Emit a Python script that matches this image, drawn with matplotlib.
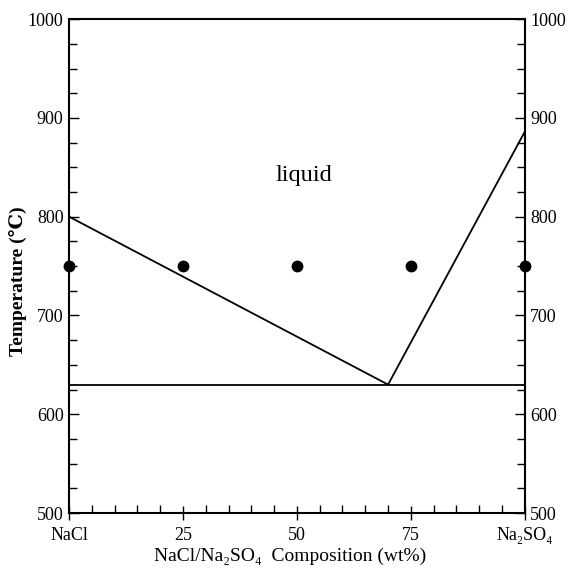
import matplotlib.pyplot as plt
from matplotlib.ticker import MultipleLocator

plt.rcParams['font.family'] = ['Liberation Serif', 'DejaVu Serif']

# liquidus curve and eutectic line
liquidus_x = [0, 70, 100]
liquidus_t = [800, 630, 886]
eutectic_x = [0, 100]
eutectic_t = [630, 630]

# experiment points
points_x = [0, 25, 50, 75, 100]
points_t = [750, 750, 750, 750, 750]

x_ticks = [0, 25, 50, 75, 100]
x_labels = ['NaCl', '25', '50', '75', 'Na₂SO₄']
y_ticks = [500, 600, 700, 800, 900, 1000]

fig = plt.figure(figsize=(5.71, 5.69), dpi=100)
ax = fig.add_axes([0.121, 0.0984, 0.798, 0.868])

ax.plot(liquidus_x, liquidus_t, color='black', linewidth=1.3, clip_on=False)
ax.plot(eutectic_x, eutectic_t, color='black', linewidth=1.3)
ax.plot(points_x, points_t, 'o', color='black', markersize=7.5, clip_on=False, zorder=5)

ax.text(51.5, 842, 'liquid', fontsize=17.5, ha='center', va='center')

ax.set_xlim(0, 100)
ax.set_ylim(500, 1000)
ax.set_xticks(x_ticks)
ax.set_xticklabels(x_labels)
ax.set_yticks(y_ticks)
ax.xaxis.set_minor_locator(MultipleLocator(5))
ax.yaxis.set_minor_locator(MultipleLocator(25))

ax.tick_params(which='both', direction='in', left=True, right=True, top=False,
               labelright=True, labelsize=13, width=1.0)
ax.tick_params(which='major', length=7)
ax.tick_params(which='minor', length=5.5)
ax.tick_params(axis='x', which='major', direction='inout', length=10, pad=5)
ax.tick_params(axis='y', which='major', pad=4)
for s in ax.spines.values():
    s.set_linewidth(1.5)

ax.set_xlabel('NaCl/Na₂SO₄  Composition (wt%)', fontsize=14)
ax.xaxis.set_label_coords(0.485, -0.071)
ax.set_ylabel('Temperature (℃)', fontsize=14, fontweight='bold')
ax.yaxis.set_label_coords(-0.092, 0.47)

fig.savefig('out.png', dpi=100)
